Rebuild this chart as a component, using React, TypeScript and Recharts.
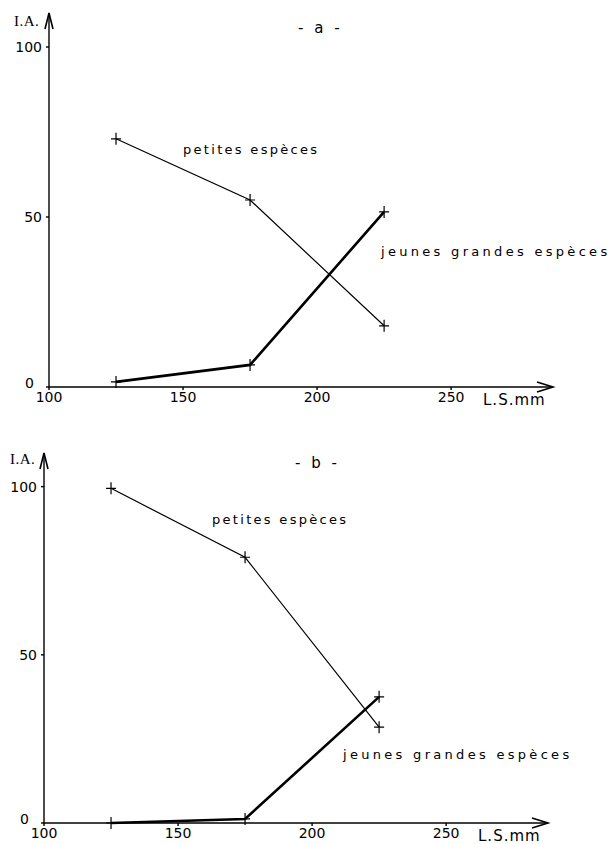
import { LineChart, Line, XAxis, YAxis, ReferenceDot } from "recharts";

// L.S. (mm) classes, and I.A. per group
const lengths = [125, 175, 225];
const petitesA = [73, 55, 18];
const jeunesA = [1.5, 6.5, 51.5];
const petitesB = [99.5, 79, 28.5];
const jeunesB = [0, 1.2, 37.5];

const xTicks = [100, 150, 200, 250];
const yTicks = [0, 50, 100];
const xMin = 100;
const xMax = 288;
const yMax = 110;

const font = "'DejaVu Sans', sans-serif";

function Cross(props: any) {
  const { cx, cy } = props;
  if (cx == null || cy == null) return null;
  return (
    <path
      d={`M${cx - 5},${cy}H${cx + 5}M${cx},${cy - 6}V${cy + 6}`}
      stroke="#000"
      strokeWidth={1.2}
      fill="none"
    />
  );
}

function ArrowRight(props: any) {
  const { cx, cy } = props;
  return <path d={`M${cx - 16},${cy - 5}L${cx},${cy}L${cx - 16},${cy + 5}`} stroke="#000" strokeWidth={1.6} fill="none" />;
}

function ArrowUp(props: any) {
  const { cx, cy } = props;
  return <path d={`M${cx - 4},${cy + 16}L${cx},${cy}L${cx + 4},${cy + 16}`} stroke="#000" strokeWidth={1.6} fill="none" />;
}

// the "0" sits a little above and left of the origin so it clears the "100" below
function YTick(props: any) {
  const { x, y, payload } = props;
  const zero = payload.value === 0;
  return (
    <text
      x={zero ? x - 8 : x}
      y={zero ? y - 4 : y}
      dy="0.35em"
      textAnchor="end"
      fill="#000"
      fontSize={14}
      fontFamily={font}
    >
      {payload.value}
    </text>
  );
}

const textStyle: React.CSSProperties = {
  position: "absolute",
  fontFamily: font,
  fontSize: 13,
  letterSpacing: "2.3px",
  lineHeight: "14px",
  whiteSpace: "nowrap",
  color: "#000",
};

const jeunesStyle: React.CSSProperties = { ...textStyle, letterSpacing: "3.3px" };
const iaStyle: React.CSSProperties = { ...textStyle, fontFamily: "'Liberation Serif', serif", fontSize: 15, letterSpacing: "0.5px" };
const titleStyle: React.CSSProperties = { ...textStyle, fontSize: 15, letterSpacing: "3px" };
const unitStyle: React.CSSProperties = { ...textStyle, fontSize: 15, letterSpacing: "1px" };

function Panel({ top, height, margin, petites, jeunes, xLabelBottom }: any) {
  const rows = lengths.map((x, i) => ({ x, petites: petites[i], jeunes: jeunes[i] }));
  return (
    <div style={{ position: "absolute", left: 0, top, width: 612, height }}>
      <LineChart width={612} height={height} data={rows} margin={margin}>
        <XAxis
          dataKey="x"
          type="number"
          domain={[xMin, xMax]}
          ticks={xTicks}
          height={xLabelBottom}
          tickSize={3}
          tickMargin={2}
          stroke="#000"
          strokeWidth={1.4}
          tick={{ fill: "#000", fontSize: 14, fontFamily: font }}
        />
        <YAxis
          type="number"
          domain={[0, yMax]}
          ticks={yTicks}
          width={40}
          tickSize={3}
          tickMargin={4}
          stroke="#000"
          strokeWidth={1.4}
          tick={<YTick />}
        />
        <Line
          dataKey="petites"
          stroke="#000"
          strokeWidth={1.2}
          dot={<Cross />}
          activeDot={false}
          isAnimationActive={false}
        />
        <Line
          dataKey="jeunes"
          stroke="#000"
          strokeWidth={2.6}
          dot={<Cross />}
          activeDot={false}
          isAnimationActive={false}
        />
        <ReferenceDot x={xMax} y={0} ifOverflow="visible" shape={<ArrowRight />} />
        <ReferenceDot x={xMin} y={yMax} ifOverflow="visible" shape={<ArrowUp />} />
      </LineChart>
    </div>
  );
}

export default function App() {
  return (
    <div style={{ position: "absolute", left: 0, top: 0, width: 612, height: 844, background: "#fff" }}>
      <Panel
        top={0}
        height={420}
        margin={{ top: 13, right: 59, bottom: 3, left: 9 }}
        xLabelBottom={30}
        petites={petitesA}
        jeunes={jeunesA}
      />
      <Panel
        top={430}
        height={414}
        margin={{ top: 23, right: 64, bottom: 1, left: 4 }}
        xLabelBottom={20}
        petites={petitesB}
        jeunes={jeunesB}
      />

      <div style={{ ...iaStyle, left: 14, top: 14 }}>I.A.</div>
      <div style={{ ...titleStyle, left: 298, top: 21 }}>- a -</div>
      <div style={{ ...textStyle, left: 183, top: 143 }}>petites espèces</div>
      <div style={{ ...jeunesStyle, left: 381, top: 245 }}>jeunes grandes espèces</div>
      <div style={{ ...unitStyle, left: 483, top: 393 }}>L.S.mm</div>

      <div style={{ ...iaStyle, left: 10, top: 452 }}>I.A.</div>
      <div style={{ ...titleStyle, left: 295, top: 456 }}>- b -</div>
      <div style={{ ...textStyle, left: 212, top: 513 }}>petites espèces</div>
      <div style={{ ...jeunesStyle, left: 343, top: 748 }}>jeunes grandes espèces</div>
      <div style={{ ...unitStyle, left: 478, top: 829 }}>L.S.mm</div>
    </div>
  );
}
